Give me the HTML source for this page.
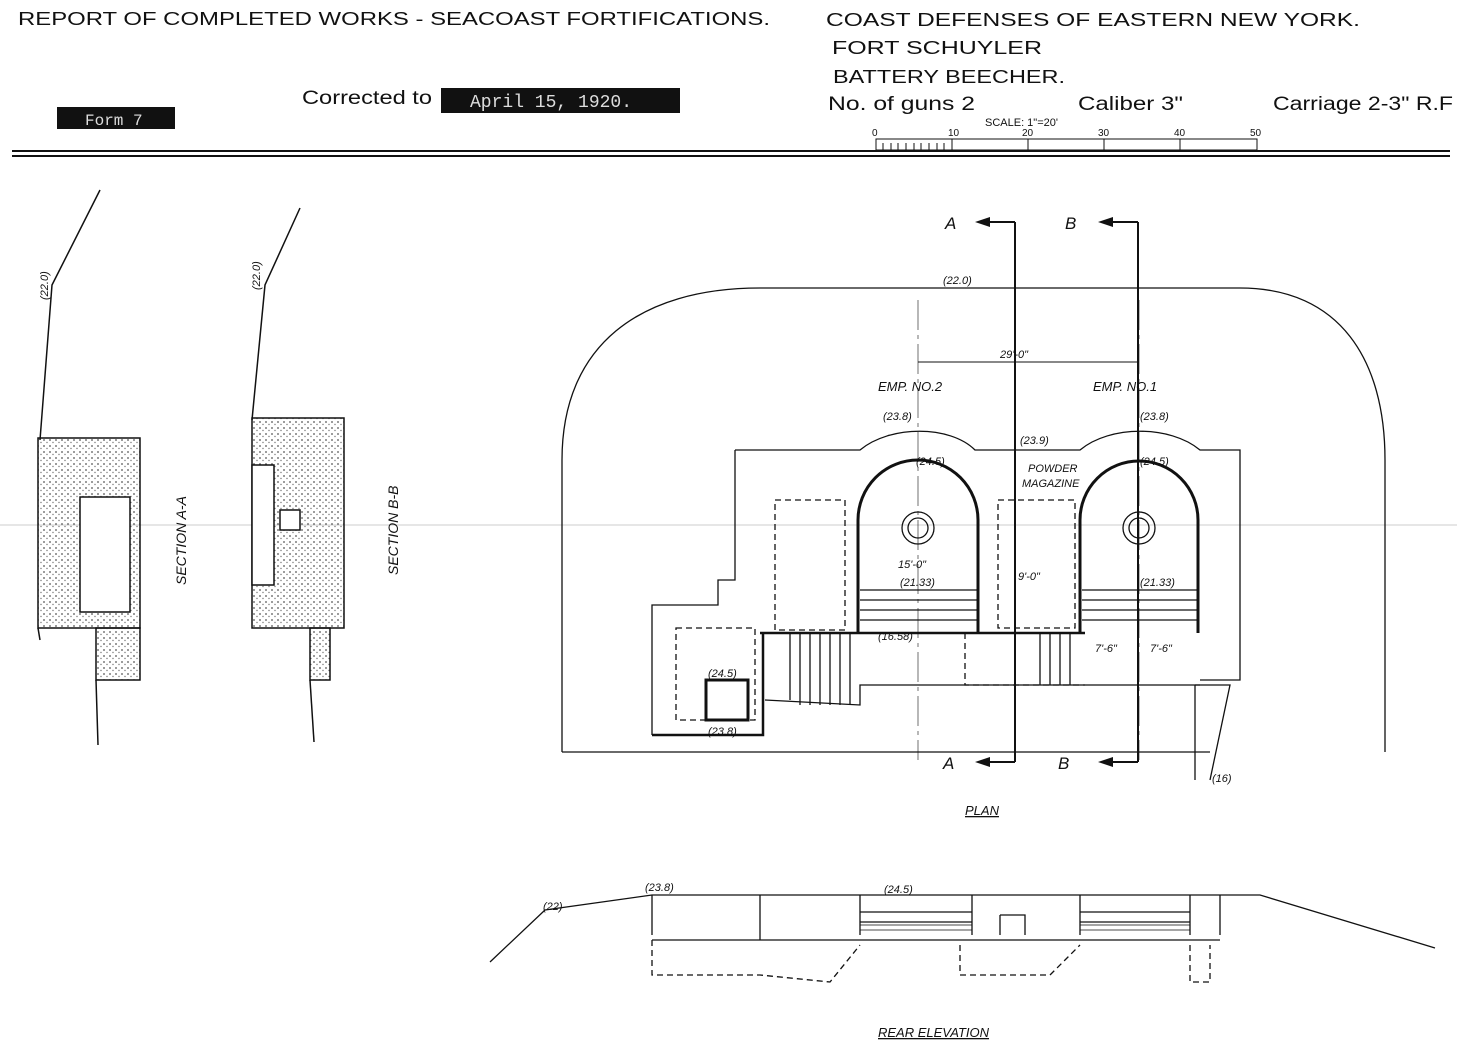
<!DOCTYPE html>
<html><head><meta charset="utf-8"><style>
body{margin:0;background:#fff;width:1457px;height:1053px;overflow:hidden}
svg{display:block}
text{font-family:"Liberation Sans",sans-serif;fill:#111}
.h{font-size:18px}
.s{font-size:11px;font-style:italic}
</style></head><body>
<svg width="1457" height="1053" viewBox="0 0 1457 1053" xmlns="http://www.w3.org/2000/svg">
<defs>
<pattern id="st" width="6" height="6" patternUnits="userSpaceOnUse"><circle cx="2" cy="2" r="0.9" fill="#555"/><circle cx="5" cy="4.5" r="0.7" fill="#777"/></pattern>
</defs>
<!-- header -->
<text x="18" y="25" class="h" textLength="752" lengthAdjust="spacingAndGlyphs">REPORT OF COMPLETED WORKS - SEACOAST FORTIFICATIONS.</text>
<text x="826" y="26" class="h" textLength="534" lengthAdjust="spacingAndGlyphs">COAST DEFENSES OF EASTERN  NEW YORK.</text>
<text x="832" y="54" class="h" textLength="210" lengthAdjust="spacingAndGlyphs">FORT SCHUYLER</text>
<text x="833" y="83" class="h" textLength="232" lengthAdjust="spacingAndGlyphs">BATTERY BEECHER.</text>
<text x="828" y="110" style="font-size:19px" textLength="147" lengthAdjust="spacingAndGlyphs">No. of guns 2</text>
<text x="1078" y="110" style="font-size:19px" textLength="105" lengthAdjust="spacingAndGlyphs">Caliber 3"</text>
<text x="1273" y="110" style="font-size:19px" textLength="180" lengthAdjust="spacingAndGlyphs">Carriage 2-3" R.F</text>
<rect x="57" y="107" width="118" height="22" fill="#111"/>
<text x="85" y="125" style="font-family:'Liberation Mono',monospace;font-size:16px;fill:#ddd">Form 7</text>
<text x="302" y="104" style="font-size:19px" textLength="130" lengthAdjust="spacingAndGlyphs">Corrected to</text>
<rect x="441" y="88" width="239" height="25" fill="#111"/>
<text x="470" y="107" style="font-family:'Liberation Mono',monospace;font-size:18px;fill:#ddd">April 15, 1920.</text>
<!-- scale -->
<text x="985" y="126" style="font-size:11px">SCALE: 1"=20'</text>
<g style="font-size:10px"><text x="872" y="136">0</text><text x="948" y="136">10</text><text x="1022" y="136">20</text><text x="1098" y="136">30</text><text x="1174" y="136">40</text><text x="1250" y="136">50</text></g>
<rect x="876" y="139" width="381" height="11" fill="none" stroke="#111"/>
<g stroke="#111"><path d="M952,139V150M1028,139V150M1104,139V150M1180,139V150M883,143V150M891,143V150M898,143V150M906,143V150M914,143V150M921,143V150M929,143V150M937,143V150M944,143V150"/></g>
<path d="M12,151H1450M12,156H1450" stroke="#111" stroke-width="2"/>
<path d="M0,525H1457" stroke="#999" stroke-width="0.6"/>
<!-- sections -->
<g stroke="#111" fill="none" stroke-width="1.5">
<path d="M100,190 L52,285 L40,440"/>
<rect x="38" y="438" width="102" height="190" fill="url(#st)"/>
<rect x="80" y="497" width="50" height="115" fill="#fff"/>
<path d="M38,628 L40,640 M96,680 L98,745"/>
<rect x="96" y="628" width="44" height="52" fill="url(#st)"/>
<path d="M300,208 L265,285 L252,420"/>
<rect x="252" y="418" width="92" height="210" fill="url(#st)"/>
<rect x="310" y="628" width="20" height="52" fill="url(#st)"/>
<path d="M310,680 L314,742"/>
<rect x="252" y="465" width="22" height="120" fill="#fff"/>
<rect x="280" y="510" width="20" height="20" fill="#fff"/>
</g>
<text x="186" y="585" transform="rotate(-90 186 585)" style="font-size:14px;font-style:italic">SECTION A-A</text>
<text x="398" y="575" transform="rotate(-90 398 575)" style="font-size:14px;font-style:italic">SECTION B-B</text>
<text x="48" y="300" transform="rotate(-90 48 300)" class="s">(22.0)</text>
<text x="260" y="290" transform="rotate(-90 260 290)" class="s">(22.0)</text>
<!-- plan -->
<g stroke="#111" fill="none" stroke-width="1.3">
<path d="M562,752 L562,460 C562,345 640,288 760,288 L1240,288 C1340,288 1385,360 1385,460 L1385,752"/>
<path d="M562,752 H1210 M1195,685 L1230,685 L1210,780 M1195,780 V685"/>
<path d="M735,450 H860 C890,425 950,425 975,450 H1080 C1110,425 1170,425 1200,450 H1240 V680 H1200"/>
<path d="M735,450 V580 H718 V605 H652 V735"/>
<path d="M858,633 V520 A60,60 0 0 1 978,520 V633" stroke-width="3"/>
<path d="M1080,633 V520 A59,59 0 0 1 1198,520 V633" stroke-width="3"/>
<path d="M760,633 H1085 M763,633 V735 H652" stroke-width="2.5"/>
<rect x="706" y="680" width="42" height="40" stroke-width="3"/>
<path d="M860,600 H978 M860,610 H978 M860,620 H978 M1082,600 H1198 M1082,610 H1198 M1082,620 H1198 M1082,590 H1198 M860,590 H978"/>
<path d="M790,633 V700 M800,633 V705 M810,633 V705 M820,633 V705 M830,633 V705 M840,633 V705 M850,633 V705 M1040,633 V685 M1050,633 V685 M1060,633 V685 M1070,633 V685"/>
<path d="M765,700 L860,705 L860,685 L1200,685"/>
<path d="M775,500 H845 V630 H775Z M676,628 H755 V720 H676Z M998,500 H1075 V628 H998Z M965,633 V685 H1085" stroke-dasharray="6,4"/>
<circle cx="918" cy="528" r="16"/><circle cx="918" cy="528" r="10"/>
<circle cx="1139" cy="528" r="16"/><circle cx="1139" cy="528" r="10"/>
<path d="M918,300 V760 M1139,300 V760" stroke-width="0.6" stroke-dasharray="30,5,4,5"/>
<path d="M1015,222 V762 M1138,222 V762" stroke-width="2"/>
<path d="M1015,222 H985 M1015,762 H985 M1138,222 H1110 M1138,762 H1110" stroke-width="2"/>
<path d="M918,362 H1138" stroke-width="1"/>
<!-- elevation -->
<path d="M652,940 H1220 M490,962 L545,910 L652,895 H1220 L1260,895 L1435,948"/>
<path d="M652,895 V935 M760,895 V940 M860,895 V935 M972,895 V935 M1080,895 V935 M1190,895 V935 M1220,895 V935"/>
<path d="M860,912 H972 M860,922 H972 M1080,912 H1190 M1080,922 H1190 M1000,915 H1025 V935 M1000,915 V935"/>
<path d="M652,940 V975 H760 L830,982 L860,945 M960,945 V975 H1015 L1050,975 L1080,945 M1190,945 V982 H1210 V945" stroke-dasharray="6,4"/>
<path d="M860,925 H972 M860,930 H972 M1080,925 H1190 M1080,930 H1190" stroke-width="0.8"/>
</g>
<g fill="#111">
<path d="M975,222 L990,217 L990,227Z M975,762 L990,757 L990,767Z M1098,222 L1113,217 L1113,227Z M1098,762 L1113,757 L1113,767Z"/>
</g>
<g class="s">
<text x="945" y="229" style="font-size:17px;font-style:italic">A</text>
<text x="1065" y="229" style="font-size:17px;font-style:italic">B</text>
<text x="943" y="769" style="font-size:17px;font-style:italic">A</text>
<text x="1058" y="769" style="font-size:17px;font-style:italic">B</text>
<text x="943" y="284" class="s">(22.0)</text>
<text x="1000" y="358" class="s">29'-0"</text>
<text x="878" y="391" class="s" style="font-size:13px">EMP. NO.2</text>
<text x="1093" y="391" class="s" style="font-size:13px">EMP. NO.1</text>
<text x="883" y="420" class="s">(23.8)</text><text x="1140" y="420" class="s">(23.8)</text>
<text x="1020" y="444" class="s">(23.9)</text>
<text x="916" y="465" class="s">(24.5)</text><text x="1140" y="465" class="s">(24.5)</text>
<text x="1028" y="472" class="s">POWDER</text><text x="1022" y="487" class="s">MAGAZINE</text>
<text x="898" y="568" class="s">15'-0"</text><text x="1018" y="580" class="s">9'-0"</text>
<text x="900" y="586" class="s">(21.33)</text><text x="1140" y="586" class="s">(21.33)</text>
<text x="1095" y="652" class="s">7'-6"</text><text x="1150" y="652" class="s">7'-6"</text>
<text x="708" y="677" class="s">(24.5)</text><text x="708" y="735" class="s">(23.8)</text>
<text x="878" y="640" class="s">(16.58)</text>
<text x="965" y="815" style="font-size:13px;font-style:italic;text-decoration:underline">PLAN</text>
<text x="1212" y="782" class="s">(16)</text>
<text x="645" y="891" class="s">(23.8)</text><text x="884" y="893" class="s">(24.5)</text>
<text x="543" y="910" class="s">(22)</text>
<text x="878" y="1037" style="font-size:13px;font-style:italic;text-decoration:underline">REAR ELEVATION</text>
</g>
</svg>
</body></html>
